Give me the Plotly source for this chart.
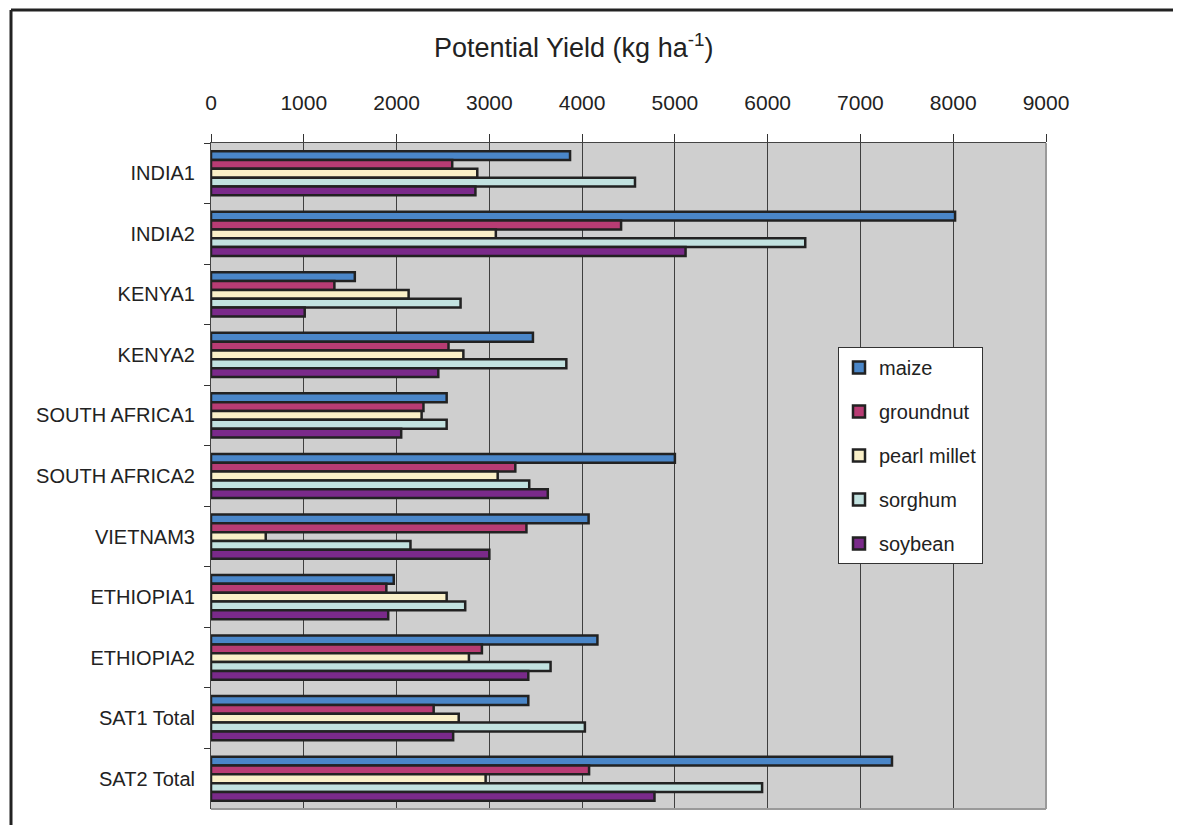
import plotly.graph_objects as go

categories = ["INDIA1", "INDIA2", "KENYA1", "KENYA2", "SOUTH AFRICA1", "SOUTH AFRICA2",
              "VIETNAM3", "ETHIOPIA1", "ETHIOPIA2", "SAT1 Total", "SAT2 Total"]

maize        = [3870, 8020, 1550, 3470, 2540, 5000, 4070, 1970, 4165, 3420, 7340]
groundnut    = [2600, 4420, 1330, 2560, 2290, 3280, 3400, 1890, 2920, 2400, 4075]
pearl_millet = [2870, 3070, 2130, 2720, 2270, 3090, 590, 2540, 2780, 2670, 2960]
sorghum      = [4570, 6405, 2690, 3830, 2540, 3430, 2150, 2740, 3660, 4030, 5940]
soybean      = [2850, 5115, 1010, 2450, 2050, 3630, 3000, 1910, 3420, 2610, 4780]

series_names = ["maize", "groundnut", "pearl millet", "sorghum", "soybean"]
series_values = [maize, groundnut, pearl_millet, sorghum, soybean]
series_colors = ["#4A86C8", "#B83C74", "#FAF0C8", "#C2E2E0", "#7A2A8A"]

x_ticks = list(range(0, 9001, 1000))

FONT = "Liberation Sans, Arial, sans-serif"
OFF = 8  # page body margin
W, H = 1181, 825
# target plot area in screen pixels
SL, SR, ST, SB = 211, 1046, 143, 809
L, R, T, B = SL - OFF, SR - OFF, ST - OFF, SB - OFF

fig = go.Figure()
for i, (name, vals, col) in enumerate(zip(series_names, series_values, series_colors)):
    fig.add_trace(go.Bar(
        name=name, y=categories, x=vals, orientation="h",
        marker=dict(color=col, line=dict(color="#222222", width=2.5)),
        legendgroup=name,
    ))

def px(xs):
    return (xs - SL) / (SR - SL)

def py(ys):
    return (SB - ys) / (SB - ST)

fig.update_layout(
    width=W, height=H,
    margin=dict(l=L, r=W - R, t=T, b=H - B),
    paper_bgcolor="white",
    plot_bgcolor="#CFCFCF",
    barmode="group",
    bargap=0.27,
    bargroupgap=0,
    font=dict(family=FONT, color="#222222", size=20),
    legend=dict(
        x=px(838), y=py(347), xanchor="left", yanchor="top",
        bgcolor="white", bordercolor="#333333", borderwidth=1,
        font=dict(size=20, family=FONT, color="#222222"),
        tracegroupgap=15, itemwidth=30,
    ),
    xaxis=dict(
        side="top", range=[0, 9000], tickvals=x_ticks,
        ticktext=[str(v) for v in x_ticks],
        showgrid=True, gridcolor="#3F3F3F", gridwidth=1,
        showline=True, linecolor="#444444", linewidth=1,
        ticks="outside", ticklen=8, tickcolor="#333333",
        tickfont=dict(size=21, family=FONT, color="#222222"),
        ticklabelstandoff=16, zeroline=False, fixedrange=True,
    ),
    yaxis=dict(
        autorange="reversed",
        showline=True, linecolor="#444444", linewidth=1,
        ticks="outside", ticklen=6, tickcolor="#333333", tickson="boundaries",
        tickfont=dict(size=20, family=FONT, color="#222222"),
        ticklabelstandoff=11, showgrid=False,
    ),
    shapes=[
        dict(type="line", xref="paper", yref="paper", x0=1, x1=1, y0=0, y1=1,
             line=dict(color="#9A9A9A", width=2)),
        dict(type="line", xref="paper", yref="paper", x0=0, x1=1, y0=0, y1=0,
             line=dict(color="#9A9A9A", width=2)),
        dict(type="line", xref="paper", yref="paper", x0=px(11), x1=px(1200), y0=py(10), y1=py(10),
             line=dict(color="#222222", width=3)),
        dict(type="line", xref="paper", yref="paper", x0=px(11), x1=px(11), y0=py(10), y1=py(840),
             line=dict(color="#222222", width=3)),
    ],
    annotations=[
        dict(text="Potential Yield (kg ha<sup>-1</sup>)", xref="paper", yref="paper",
             x=px(573), y=py(46), xanchor="center", yanchor="middle", showarrow=False,
             font=dict(size=27, family=FONT, color="#222222")),
    ],
)

fig.write_html("out.html")
